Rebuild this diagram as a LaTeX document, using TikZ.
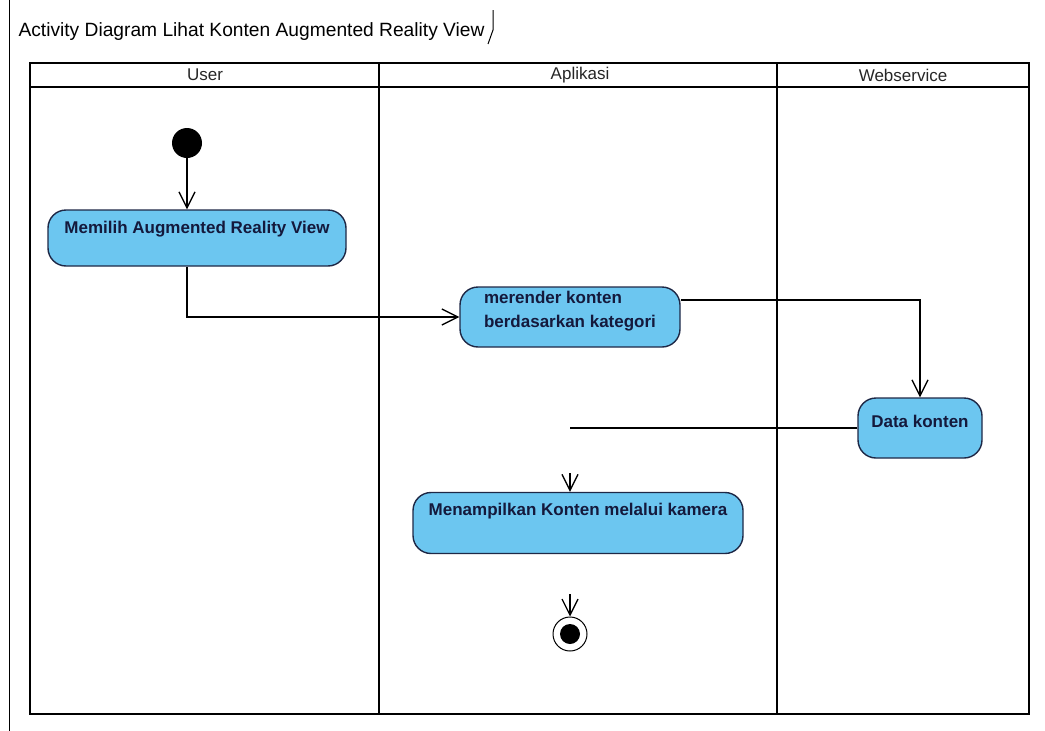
\documentclass[tikz,border=0pt]{standalone}
\usepackage{fontspec}
\setmainfont{Liberation Sans}
\usetikzlibrary{arrows.meta}
\definecolor{actfill}{RGB}{108,198,240}
\definecolor{actline}{RGB}{30,40,70}
\definecolor{acttext}{RGB}{20,25,60}

\begin{document}
\begin{tikzpicture}[x=1pt,y=-1pt,
  act/.style={draw=actline,line width=1.4pt,fill=actfill,rounded corners=18pt,inner sep=0pt,font=\fontsize{17}{24}\selectfont\bfseries,text=acttext},
  flow/.style={line width=1.3pt,-{Straight Barb[length=16pt,width=16pt]}},
  lane/.style={line width=2.4pt}]
\useasboundingbox (0,0) rectangle (1045,731);
% frame and title
\draw[line width=1pt] (9,0) -- (9,731);
\node[anchor=base west,font=\fontsize{19.2}{21}\selectfont] (title) at (15,36) {Activity Diagram Lihat Konten Augmented Reality View};
\draw[line width=1pt] (493,10) -- (493,30) -- (488,44);
% swimlanes
\draw[lane] (30,63) rectangle (1029,714);
\draw[lane] (30,87) -- (1029,87);
\draw[lane] (379,63) -- (379,714);
\draw[lane] (777,63) -- (777,714);
\foreach \x/\name in {205/User,580/Aplikasi,903/Webservice}
  \node[font=\fontsize{17}{20}\selectfont,text=black!85] (\name) at (\x,75) {\name};
% activities
\node[circle,fill=black,minimum size=30pt,inner sep=0pt] (start) at (187,143) {};
\node[act,minimum width=298pt,text height=23pt,text depth=33pt] (pilih) at (197,238) {Memilih Augmented Reality View};
\node[act,align=left,minimum width=220pt,text height=40pt,text depth=20pt] (render) at (570,317) {merender konten\\berdasarkan kategori};
\node[act,minimum width=124pt,text height=29pt,text depth=31pt] (data) at (920,428) {Data konten};
\node[act,minimum width=330pt,text height=23pt,text depth=38pt] (tampil) at (578,523) {Menampilkan Konten melalui kamera};
\node[circle,draw,line width=1pt,minimum size=34pt,inner sep=0pt] (end) at (570,634) {};
\node[circle,fill=black,minimum size=20pt,inner sep=0pt] (endcore) at (end) {};
% flows
\coordinate (bend) at (570,428);
\coordinate (inA) at (570,473);
\coordinate (inB) at (570,594);
\draw[flow] (start) -- (start |- pilih.north);
\draw[flow] (pilih.south -| start) |- (render.west);
\draw[flow] ([yshift=17pt]render.east) -| (data.north);
\draw[line width=1.3pt] (data.west) -- (bend);
\draw[flow] (inA) -- (inA |- tampil.north);
\draw[flow] (inB) -- (end.north);
\end{tikzpicture}
\end{document}
